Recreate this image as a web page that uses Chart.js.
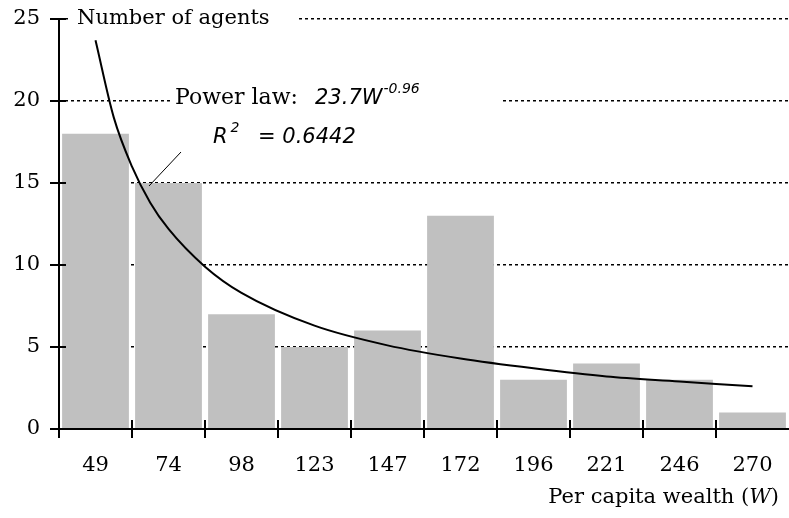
<!DOCTYPE html>
<html>
<head>
<meta charset="utf-8">
<script src="https://cdn.jsdelivr.net/npm/chart.js@4.4.0/dist/chart.umd.min.js"></script>
<style>body{margin:0;background:#fff}</style>
</head>
<body>
<canvas id="wealthChart" width="789" height="518"></canvas>
<script>
// bins of per capita wealth
var wealthBins = ['49', '74', '98', '123', '147', '172', '196', '221', '246', '270'];
// number of agents in each bin
var agentCounts = [18, 15, 7, 5, 6, 13, 3, 4, 3, 1];
// power law curve (x = bin position, 1 = first bin)
var trendX = [1, 1.25, 1.5, 1.75, 2, 2.5, 3, 4, 5, 6, 7, 8, 9, 10];
var trendY = [23.7, 19.0, 16.0, 13.8, 12.2, 9.9, 8.3, 6.3, 5.1, 4.3, 3.7, 3.2, 2.9, 2.6];
var yTicks = [0, 5, 10, 15, 20, 25];

var SERIF = 'DejaVu Serif';
var SANS = 'DejaVu Sans';

function line(ctx, x1, y1, x2, y2) {
    ctx.beginPath();
    ctx.moveTo(x1, y1);
    ctx.lineTo(x2, y2);
    ctx.stroke();
}

// white boxes behind the labels, axes with crossing ticks, annotation text
var decorations = {
    id: 'decorations',
    beforeDatasetsDraw(chart) {
        var ctx = chart.ctx;
        ctx.save();
        ctx.fillStyle = '#fff';
        ctx.fillRect(68, 0, 228, 34);     // behind "Number of agents"
        ctx.fillRect(172, 78, 328, 75);   // behind the power law label
        ctx.restore();
    },
    afterDatasetsDraw(chart) {
        var ctx = chart.ctx;
        var area = chart.chartArea;
        var xs = chart.scales.x, ys = chart.scales.y;
        var y0 = ys.getPixelForValue(0);
        var yTop = ys.getPixelForValue(25);
        ctx.save();
        ctx.strokeStyle = '#000';
        ctx.lineWidth = 2;
        // axis lines
        line(ctx, area.left, yTop, area.left, y0 + 1);
        line(ctx, area.left - 9, y0, area.right, y0);
        // y ticks
        yTicks.forEach(function (v) {
            var py = ys.getPixelForValue(v);
            line(ctx, area.left - 9, py, area.left + 7, py);
        });
        // x ticks on bin boundaries
        var half = (xs.getPixelForValue(1) - xs.getPixelForValue(0)) / 2;
        for (var i = 0; i < wealthBins.length; i++) {
            var px = xs.getPixelForValue(i) - half;
            line(ctx, px, y0 - 9, px, y0 + 9);
        }

        ctx.fillStyle = '#000';
        ctx.textBaseline = 'alphabetic';
        ctx.textAlign = 'left';

        // y title
        ctx.font = '21px "' + SERIF + '"';
        ctx.fillText('Number of agents', 77, 24);

        // power law label
        ctx.font = '22px "' + SERIF + '"';
        ctx.fillText('Power law:', 175, 104);
        ctx.font = 'italic 21px "' + SANS + '"';
        var t = '23.7W';
        ctx.fillText(t, 315, 104);
        var tx = 315 + ctx.measureText(t).width;
        ctx.font = 'italic 14px "' + SANS + '"';
        ctx.fillText('-0.96', tx + 1, 93);

        ctx.font = 'italic 21px "' + SANS + '"';
        ctx.fillText('R', 213, 143);
        var rx = 213 + ctx.measureText('R').width;
        ctx.font = 'italic 14px "' + SANS + '"';
        ctx.fillText('2', rx + 3, 132);
        ctx.font = 'italic 21px "' + SANS + '"';
        ctx.fillText('= 0.6442', 258, 143);

        // leader line
        ctx.lineWidth = 1;
        line(ctx, 181, 152, 149, 186);

        // x title, right aligned
        ctx.font = '21px "' + SERIF + '"';
        var a = 'Per capita wealth (', b = 'W', c = ')';
        var wa = ctx.measureText(a).width, wc = ctx.measureText(c).width;
        ctx.font = 'italic 21px "' + SERIF + '"';
        var wb = ctx.measureText(b).width;
        var left = 779 - wa - wb - wc;
        ctx.font = '21px "' + SERIF + '"';
        ctx.fillText(a, left, 503);
        ctx.fillText(c, left + wa + wb, 503);
        ctx.font = 'italic 21px "' + SERIF + '"';
        ctx.fillText(b, left + wa, 503);
        ctx.restore();
    }
};

var ctx = document.getElementById('wealthChart').getContext('2d');
var wealthChart = new Chart(ctx, {
    data: {
        labels: wealthBins,
        datasets: [
            {
                type: 'line',
                data: trendX.map(function (x, i) { return { x: x, y: trendY[i] }; }),
                xAxisID: 'xt',
                yAxisID: 'y',
                borderColor: '#000',
                borderWidth: 2,
                pointRadius: 0,
                cubicInterpolationMode: 'monotone',
                order: 0
            },
            {
                type: 'bar',
                data: agentCounts,
                xAxisID: 'x',
                yAxisID: 'y',
                backgroundColor: '#c0c0c0',
                grouped: false,
                barPercentage: 0.915,
                categoryPercentage: 1,
                order: 1
            }
        ]
    },
    options: {
        responsive: false,
        animation: false,
        layout: { autoPadding: false, padding: { top: 19, right: 0, bottom: 0, left: 0 } },
        plugins: {
            legend: { display: false },
            tooltip: { enabled: false }
        },
        scales: {
            x: {
                type: 'category',
                grid: { display: false },
                border: { display: false },
                ticks: { color: '#000', font: { family: SERIF, size: 21 }, padding: 16, maxRotation: 0 },
                afterFit: function (s) {
                    s.height = 89;
                    s.paddingLeft = 0;
                    s.paddingRight = 0;
                }
            },
            xt: {
                type: 'linear',
                display: false,
                min: 0.5,
                max: 10.5
            },
            y: {
                min: 0,
                max: 25,
                ticks: { stepSize: 5, color: '#000', font: { family: SERIF, size: 21 }, padding: 19 },
                grid: {
                    drawTicks: false,
                    lineWidth: 1.5,
                    color: function (c) { return c.tick && c.tick.value === 0 ? 'rgba(0,0,0,0)' : '#000'; }
                },
                border: { display: false, dash: [3, 3] },
                afterFit: function (s) {
                    s.width = 59;
                    s.paddingTop = 0;
                    s.paddingBottom = 0;
                }
            }
        }
    },
    plugins: [decorations]
});
</script>
</body>
</html>
